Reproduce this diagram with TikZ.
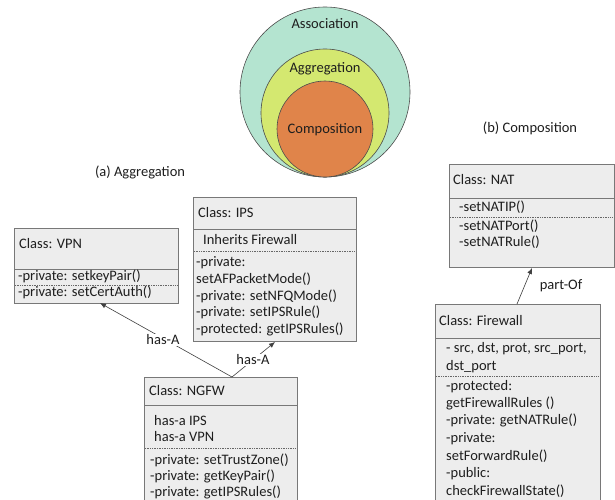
\documentclass[tikz,border=0pt]{standalone}
\usepackage{fontspec}
\setmainfont{Carlito}
\usetikzlibrary{arrows.meta}
\definecolor{assocc}{RGB}{180,228,208}
\definecolor{aggc}{RGB}{212,232,112}
\definecolor{compc}{RGB}{224,132,74}
\definecolor{boxfill}{RGB}{237,237,237}
\definecolor{boxline}{RGB}{120,120,120}
\definecolor{txt}{RGB}{30,30,30}
\tikzset{
  circ/.style={circle,draw=black!70,line width=0.6pt,inner sep=0pt},
  umlbox/.style={rectangle,draw=boxline,fill=boxfill,line width=0.8pt,anchor=north west,inner sep=0pt},
  ln/.style={anchor=west,inner sep=0pt,text height=10pt,text depth=3pt,text=txt,font=\fontsize{14.5}{16}\selectfont},
  ttl/.style={inner sep=0pt,text=txt,font=\fontsize{14.5}{16}\selectfont},
  sep/.style={draw=boxline,line width=0.8pt},
  dots/.style={draw=black!60,densely dotted,line width=0.7pt},
  conn/.style={draw=black!75,line width=0.6pt,-{Latex[length=6pt,width=5pt]}},
}
\begin{document}
\begin{tikzpicture}[x=1pt,y=-1pt]
\useasboundingbox[fill=white] (0,0) rectangle (615,500);
\begin{scope}
\clip (0,0) rectangle (615,500);
% circles
\node[circ,fill=assocc,minimum size=170pt] (assoc) at (325,92) {};
\node[circ,fill=aggc,minimum size=128pt] (agg) at (325,113) {};
\node[circ,fill=compc,minimum size=96pt] (comp) at (325,129) {};
\node[ttl] (tassoc) at (325,24) {Association};
\node[ttl] (tagg) at (325,69) {Aggregation};
\node[ttl] (tcomp) at (325,130) {Composition};

% captions
\node[ttl] (capa) at (140,172) {(a) Aggregation};
\node[ttl] (capb) at (530,128) {(b) Composition};

% VPN
\node[umlbox,minimum width=164pt,minimum height=75pt] (vpn) at (14,228) {};
\draw[sep] (14,269) -- (178,269);
\draw[dots] (15,285) -- (177,285);
\node[ln] (vpnh) at (19,245) {Class: VPN};
\node[ln] (vpn1) at (18,277) {-private: setkeyPair()};
\node[ln] (vpn2) at (18,293) {-private: setCertAuth()};

% IPS
\node[umlbox,minimum width=163pt,minimum height=144pt] (ips) at (193,197) {};
\draw[sep] (193,229) -- (356,229);
\draw[dots] (194,251) -- (355,251);
\node[ln] (ipsh) at (198,214) {Class: IPS};
\node[ln] (ips1) at (203,241) {Inherits Firewall};
\node[ln] (ips2) at (196,263) {-private:};
\node[ln] (ips3) at (196,280) {setAFPacketMode()};
\node[ln] (ips4) at (196,297) {-private: setNFQMode()};
\node[ln] (ips5) at (196,313) {-private: setIPSRule()};
\node[ln] (ips6) at (196,330) {-protected: getIPSRules()};

% NGFW
\node[umlbox,minimum width=153pt,minimum height=130pt] (ngfw) at (144,377) {};
\draw[sep] (144,405) -- (297,405);
\draw[dots] (145,448) -- (296,448);
\node[ln] (ngfwh) at (149,392) {Class: NGFW};
\node[ln] (ngfw1) at (154,422) {has-a IPS};
\node[ln] (ngfw2) at (154,438) {has-a VPN};
\node[ln] (ngfw3) at (150,461) {-private: setTrustZone()};
\node[ln] (ngfw4) at (150,477) {-private: getKeyPair()};
\node[ln] (ngfw5) at (150,493) {-private: getIPSRules()};

% NAT
\node[umlbox,minimum width=165pt,minimum height=103pt] (nat) at (449,164) {};
\draw[sep] (449,198) -- (614,198);
\draw[dots] (450,217) -- (613,217);
\node[ln] (nath) at (453,181) {Class: NAT};
\node[ln] (nat1) at (459,208) {-setNATIP()};
\node[ln] (nat2) at (459,227) {-setNATPort()};
\node[ln] (nat3) at (459,243) {-setNATRule()};

% Firewall
\node[umlbox,minimum width=165pt,minimum height=205pt] (fw) at (435,304) {};
\draw[sep] (435,338) -- (600,338);
\draw[dots] (436,376) -- (599,376);
\node[ln] (fwh) at (439,322) {Class: Firewall};
\node[ln] (fw1) at (446,349) {- src, dst, prot, src\_port,};
\node[ln] (fw2) at (446,367) {dst\_port};
\node[ln] (fw3) at (446,387) {-protected:};
\node[ln] (fw4) at (446,404) {getFirewallRules ()};
\node[ln] (fw5) at (446,421) {-private: getNATRule()};
\node[ln] (fw6) at (446,439) {-private:};
\node[ln] (fw7) at (446,457) {setForwardRule()};
\node[ln] (fw8) at (446,474) {-public:};
\node[ln] (fw9) at (446,492) {checkFirewallState()};

% connectors
\coordinate (jn) at (232,377);
\coordinate (vpnend) at (100,303);
\coordinate (ipsend) at (275,342);
\coordinate (fwtop) at (517,304);
\coordinate (natend) at (532,268);
\draw[conn] (jn) -- (vpnend);
\draw[conn] (jn) -- (ipsend);
\draw[conn] (fwtop) -- (natend);
\node[ttl,fill=white,inner sep=1pt] (lha1) at (163,340) {has-A};
\node[ttl,fill=white,inner sep=1pt] (lha2) at (253,360) {has-A};
\node[ttl] (lpo) at (561,286) {part-Of};
\end{scope}
\end{tikzpicture}
\end{document}
